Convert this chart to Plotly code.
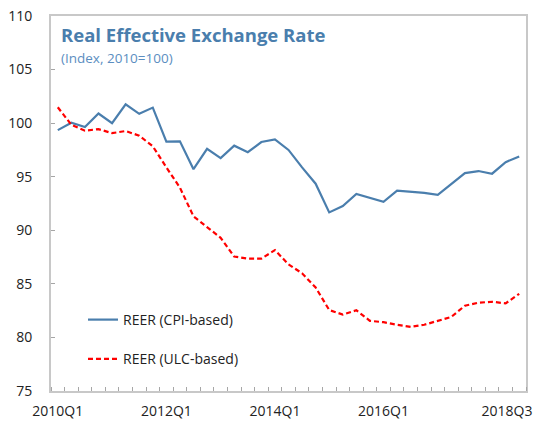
import plotly.graph_objects as go

quarters = [f"{y}Q{q}" for y in range(2010, 2019) for q in range(1, 5)][:35]

reer_cpi = [99.35, 100.04, 99.63, 100.9, 100.0, 101.76, 100.87, 101.45, 98.28, 98.3,
            95.7, 97.6, 96.73, 97.9, 97.29, 98.24, 98.49, 97.5, 95.87, 94.35,
            91.67, 92.26, 93.4, 93.03, 92.66, 93.7, 93.61, 93.49, 93.3, 94.35,
            95.34, 95.53, 95.28, 96.36, 96.89]

reer_ulc = [101.48, 99.85, 99.3, 99.44, 99.07, 99.26, 98.83, 97.84, 95.87, 93.98,
            91.3, 90.31, 89.3, 87.55, 87.35, 87.35, 88.15, 86.82, 85.99, 84.66,
            82.56, 82.13, 82.53, 81.55, 81.42, 81.18, 80.99, 81.18, 81.57, 81.92,
            82.96, 83.24, 83.33, 83.18, 84.07]

tick_labels = ["2010Q1", "2012Q1", "2014Q1", "2016Q1", "2018Q3"]
y_ticks = [75, 80, 85, 90, 95, 100, 105, 110]

xi = list(range(len(quarters)))
tick_pos = [quarters.index(t) for t in tick_labels]
# last label is nudged left so it stays inside the figure, as in the original
tick_pos[-1] = tick_pos[-1] - 0.9

W, H = 533, 421
ML, MR, MT, MB = 51, 7, 16, 30
pw, ph = W - ML - MR, H - MT - MB
def px(x): return (x - ML) / pw
def py(y): return (H - MB - y) / ph

fig = go.Figure()
fig.add_trace(go.Scatter(x=xi, y=reer_cpi, mode="lines", name="REER (CPI-based)",
                         line=dict(color="#4A7EAD", width=2.2), legendgroup="a"))
fig.add_trace(go.Scatter(x=xi, y=reer_ulc, mode="lines", name="REER (ULC-based)",
                         line=dict(color="#FF0000", width=2.2, dash="5px,3px"), legendgroup="b"))

font_family = "Open Sans, Noto Sans, sans-serif"
fig.update_layout(
    width=W, height=H,
    margin=dict(l=ML, r=MR, t=MT, b=MB, autoexpand=False),
    plot_bgcolor="white", paper_bgcolor="white",
    font=dict(family=font_family, size=13, color="#222222"),
    showlegend=True,
    legend=dict(x=px(83), y=py(304), xanchor="left", yanchor="top",
                bgcolor="rgba(0,0,0,0)", font=dict(size=14, color="#222222"),
                traceorder="grouped", tracegroupgap=18),
    xaxis=dict(range=[-0.5, 34.5], tickmode="array", tickvals=tick_pos, ticktext=tick_labels,
               ticks="", showgrid=False, zeroline=False, automargin=False,
               showline=True, linecolor="#C8C8C8", linewidth=2, mirror=True,
               ticklabelstandoff=6, ticklabeloverflow="allow",
               minor=dict(ticks="inside", tick0=-0.5, dtick=1, ticklen=4,
                          tickcolor="#A6A6A6", tickwidth=1, showgrid=False),
               tickfont=dict(size=14, color="#222222")),
    yaxis=dict(range=[75, 110], tickmode="array", tickvals=y_ticks,
               ticks="inside", ticklen=4, tickcolor="#A6A6A6", tickwidth=1,
               showgrid=False, zeroline=False, automargin=False,
               showline=True, linecolor="#C8C8C8", linewidth=2, mirror=True,
               ticklabelstandoff=14,
               tickfont=dict(size=14, color="#222222")),
)
fig.add_annotation(text="<b>Real Effective Exchange Rate</b>", x=px(59), y=py(35),
                   xref="paper", yref="paper", showarrow=False, xanchor="left", yanchor="middle",
                   font=dict(size=18.5, color="#4A7EAD", family=font_family))
fig.add_annotation(text="(Index, 2010=100)", x=px(59), y=py(58),
                   xref="paper", yref="paper", showarrow=False, xanchor="left", yanchor="middle",
                   font=dict(size=13.5, color="#5B8EC1", family=font_family))

fig.write_html("out.html", config={"displayModeBar": False},
               post_script="document.body.style.margin='0px';document.body.style.overflow='hidden';")
